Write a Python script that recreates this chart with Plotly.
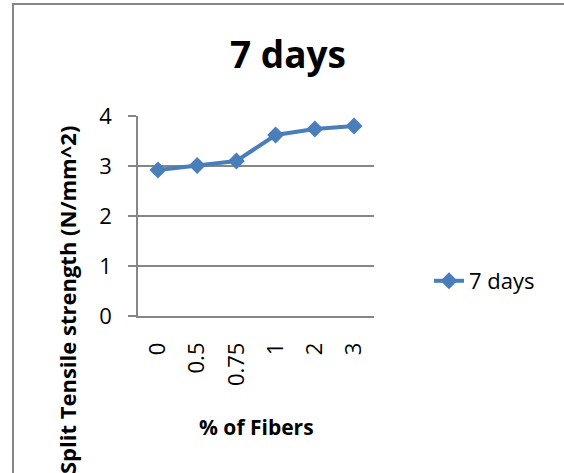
import plotly.graph_objects as go

# Split tensile strength at 7 days versus fibre content
fiber_pct = ["0", "0.5", "0.75", "1", "2", "3"]
strength_7d = [2.92, 3.01, 3.10, 3.62, 3.74, 3.80]
series_name = "7 days"

W, H = 564, 473
L, R, T, B = 138, 190, 116, 157
PW, PH = W - L - R, H - T - B


def px_x(x):
    return (x - L) / PW


def px_y(y):
    return (H - B - y) / PH


BLUE = "#4a7ebb"
GRID = "#868686"
FONT = "Open Sans"

fig = go.Figure()
fig.add_trace(go.Scatter(
    x=fiber_pct, y=strength_7d, name=series_name, mode="lines+markers",
    line=dict(color=BLUE, width=4),
    marker=dict(symbol="diamond", size=13, color=BLUE),
))

fig.update_layout(
    width=W, height=H, autosize=False,
    margin=dict(l=L, r=R, t=T, b=B, pad=0),
    paper_bgcolor="white", plot_bgcolor="white",
    font=dict(family=FONT, color="black"),
    showlegend=True,
    legend=dict(
        x=px_x(429), y=px_y(281), xanchor="left", yanchor="middle",
        font=dict(size=22, family=FONT), bgcolor="rgba(0,0,0,0)",
    ),
    xaxis=dict(
        type="category", categoryorder="array", categoryarray=fiber_pct,
        showgrid=False, zeroline=False, showline=True, linecolor=GRID, linewidth=1.5,
        ticks="", tickangle=-90, tickfont=dict(size=22, family=FONT),
        ticklabelstandoff=16,
    ),
    yaxis=dict(
        range=[0, 4], dtick=1, tick0=0, showgrid=True, gridcolor=GRID, gridwidth=1.5,
        zeroline=False, showline=True, linecolor=GRID, linewidth=1.5,
        ticks="outside", ticklen=8, tickcolor=GRID, tickwidth=1.5,
        tickfont=dict(size=22, family=FONT), ticklabelstandoff=12,
    ),
    annotations=[
        dict(text="<b>7 days</b>", xref="paper", yref="paper",
             x=px_x(288), y=px_y(53), xanchor="center", yanchor="middle",
             showarrow=False, font=dict(size=37, family=FONT)),
        dict(text="<b>% of Fibers</b>", xref="paper", yref="paper",
             x=px_x(256), y=px_y(427), xanchor="center", yanchor="middle",
             showarrow=False, font=dict(size=21, family=FONT)),
        dict(text="<b>Split Tensile strength (N/mm^2)</b>", xref="paper", yref="paper",
             x=px_x(67), y=px_y(300), xanchor="center", yanchor="middle",
             textangle=-90, showarrow=False, font=dict(size=22, family=FONT)),
    ],
    shapes=[
        dict(type="line", xref="paper", yref="paper",
             x0=px_x(13), x1=px_x(13), y0=px_y(4), y1=px_y(H + 10),
             line=dict(color=GRID, width=2)),
        dict(type="line", xref="paper", yref="paper",
             x0=px_x(12), x1=px_x(W + 10), y0=px_y(4), y1=px_y(4),
             line=dict(color=GRID, width=2)),
    ],
)

fig.write_html("out.html")
